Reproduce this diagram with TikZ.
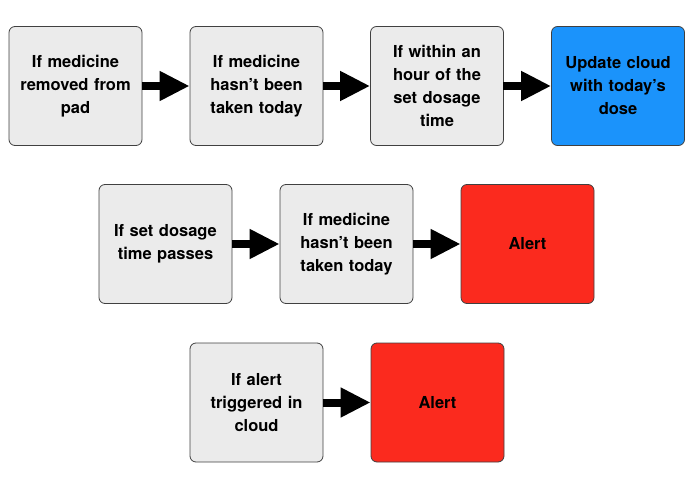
\documentclass[tikz,border=0pt]{standalone}
\usepackage{fontspec}
\setmainfont{TeX Gyre Heros}
\usetikzlibrary{arrows.meta}
\definecolor{gbox}{HTML}{EBEBEB}
\definecolor{bbox}{HTML}{1B93FB}
\definecolor{rbox}{HTML}{FB2A1E}
\tikzset{
  box/.style={draw=black!75, line width=0.8pt, rounded corners=6pt, minimum width=133pt, minimum height=119pt, fill=gbox, align=center, font=\bfseries\fontsize{16.5}{23}\selectfont, text width=125pt, inner sep=0pt},
  conn/.style={line width=8pt, -{Triangle[length=30pt,width=28pt]}, shorten <=-0.5pt}
}
\begin{document}
\begin{tikzpicture}[x=1pt,y=-1pt]
\useasboundingbox (0,0) rectangle (695,494);
\node[box] (a1) at (75.5,86) {If medicine\\removed from\\pad};
\node[box] (a2) at (256.5,86) {If medicine\\hasn’t been\\taken today};
\node[box] (a3) at (437,86) {If within an\\hour of the\\set dosage\\time};
\node[box, fill=bbox] (a4) at (618,86) {Update cloud\\with today’s\\dose};
\node[box] (b1) at (165.5,244) {If set dosage\\time passes};
\node[box] (b2) at (346.5,244) {If medicine\\hasn’t been\\taken today};
\node[box, fill=rbox] (b3) at (527.5,244) {Alert};
\node[box] (c1) at (256.5,402.5) {If alert\\triggered in\\cloud};
\node[box, fill=rbox] (c2) at (437.5,402.5) {Alert};
\draw[conn] (a1) -- (a2);
\draw[conn] (a2) -- (a3);
\draw[conn] (a3) -- (a4);
\draw[conn] (b1) -- (b2);
\draw[conn] (b2) -- (b3);
\draw[conn] (c1) -- (c2);
\end{tikzpicture}
\end{document}
